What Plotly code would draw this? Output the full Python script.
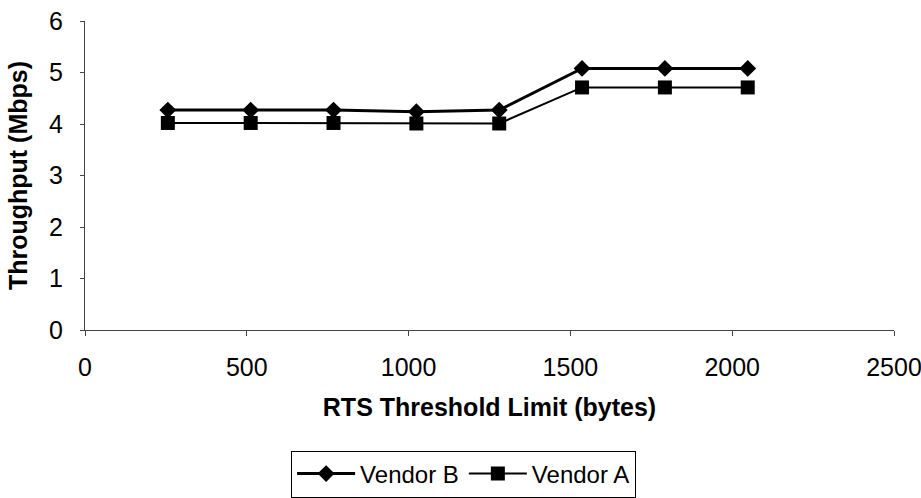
import plotly.graph_objects as go

# RTS threshold settings (bytes) and measured throughput (Mbps)
rts_threshold = [256, 512, 768, 1024, 1280, 1536, 1792, 2048]
vendor_b = [4.27, 4.27, 4.27, 4.24, 4.27, 5.08, 5.08, 5.08]
vendor_a = [4.02, 4.02, 4.02, 4.01, 4.01, 4.71, 4.71, 4.71]

x_ticks = [0, 500, 1000, 1500, 2000, 2500]
y_ticks = [0, 1, 2, 3, 4, 5, 6]

fig = go.Figure()
fig.add_trace(go.Scatter(
    x=rts_threshold, y=vendor_b, name="Vendor B", mode="lines+markers",
    line=dict(color="black", width=3),
    marker=dict(symbol="diamond", size=13, color="black"),
))
fig.add_trace(go.Scatter(
    x=rts_threshold, y=vendor_a, name="Vendor A", mode="lines+markers",
    line=dict(color="black", width=2),
    marker=dict(symbol="square", size=14, color="black"),
))

font = dict(family="Liberation Sans, Arial, sans-serif", size=25, color="black")
legend_font = dict(family="Liberation Sans, Arial, sans-serif", size=24, color="black")

fig.update_layout(
    width=921, height=498,
    paper_bgcolor="white", plot_bgcolor="white",
    margin=dict(l=85, r=27, t=21, b=168, autoexpand=False),
    font=font,
    showlegend=True,
    legend=dict(
        orientation="h", x=0.468, xanchor="center", y=-0.39, yanchor="top",
        bordercolor="black", borderwidth=1, font=legend_font,
        itemwidth=58, tracegroupgap=0,
    ),
    xaxis=dict(
        range=[0, 2500], tickvals=x_ticks, showgrid=False, zeroline=False,
        showline=True, linecolor="#444", linewidth=1, automargin=False,
        ticks="outside", ticklen=5, tickcolor="#444", ticklabelstandoff=10,
        ticklabeloverflow="allow",
        title=dict(text="<b>RTS Threshold Limit (bytes)</b>", font=font, standoff=18),
    ),
    yaxis=dict(
        range=[0, 6], tickvals=y_ticks, showgrid=False, zeroline=False,
        showline=True, linecolor="#444", linewidth=1, automargin=False,
        ticks="outside", ticklen=4, tickcolor="#444", ticklabelstandoff=12,
        title=dict(text="<b>Throughput (Mbps)</b>", font=font, standoff=14),
    ),
)

fig.write_html("out.html")
